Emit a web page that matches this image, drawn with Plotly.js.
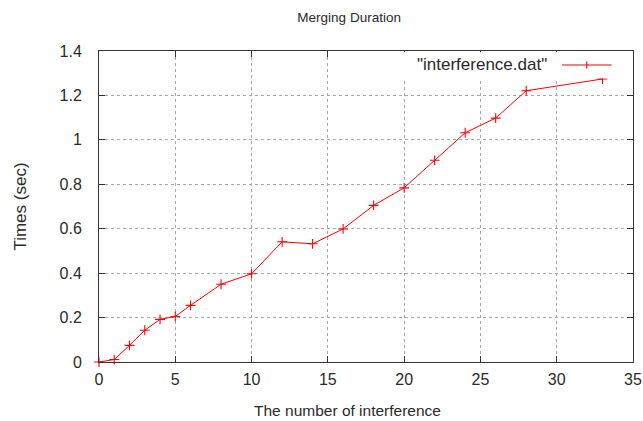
<!DOCTYPE html>
<html>
<head>
<meta charset="utf-8">
<script src="https://cdn.plot.ly/plotly-3.0.1.min.js"></script>
<style>html,body{margin:0;padding:0;background:#fff;}#chart{width:643px;height:421px;}</style>
</head>
<body>
<div id="chart"></div>
<script>
// Data
const interferenceCount = [0, 1, 2, 3, 4, 5, 6, 8, 10, 12, 14, 16, 18, 20, 22, 24, 26, 28, 33];
const mergeSeconds = [0, 0.011, 0.075, 0.143, 0.192, 0.205, 0.255, 0.35, 0.397, 0.541, 0.532, 0.599, 0.705, 0.784, 0.908, 1.032, 1.098, 1.221, 1.274];
const seriesName = '"interference.dat"';
const chartTitle = 'Merging Duration';
const xTitle = 'The number of interference';
const yTitle = 'Times (sec)';

const FONT = 'Liberation Sans, Arial, sans-serif';
const TXT = '#2a2a2a';
const RED = '#ff0000';

const trace = {
  x: interferenceCount,
  y: mergeSeconds,
  type: 'scatter',
  mode: 'lines+markers',
  name: seriesName,
  line: {color: RED, width: 1},
  marker: {symbol: 'cross-thin', size: 7, line: {color: RED, width: 1.1}, color: RED},
  cliponaxis: false,
  showlegend: false
};

const axisCommon = {
  showline: true, linecolor: '#333', linewidth: 1, mirror: 'ticks',
  ticks: 'inside', ticklen: 6, tickcolor: '#333', tickwidth: 1,
  showgrid: true, gridcolor: '#a8a8a8', griddash: 'dot', gridwidth: 1,
  zeroline: false,
  tickfont: {family: FONT, size: 16, color: TXT}
};

const layout = {
  width: 643, height: 421,
  margin: {l: 99, r: 10, t: 51, b: 59},
  paper_bgcolor: '#fff', plot_bgcolor: '#fff',
  font: {family: FONT, color: TXT},
  title: {text: chartTitle, font: {family: FONT, size: 13.5, color: TXT},
          xref: 'container', x: 0.543, xanchor: 'center',
          yref: 'container', y: 0.958, yanchor: 'middle'},
  xaxis: Object.assign({}, axisCommon, {
    range: [0, 35], dtick: 5, tick0: 0,
    ticklabelstandoff: 3
  }),
  yaxis: Object.assign({}, axisCommon, {
    range: [0, 1.4], dtick: 0.2, tick0: 0,
    title: {text: yTitle, font: {family: FONT, size: 17, color: TXT}, standoff: 28},
    ticklabelstandoff: 13
  }),
  annotations: [
    {xref: 'paper', yref: 'paper', x: 0.842, y: 0.955, xanchor: 'right', yanchor: 'middle',
     text: seriesName, showarrow: false, bgcolor: '#fff',
     font: {family: FONT, size: 17, color: TXT}},
    {xref: 'paper', yref: 'paper', x: 0.466, y: -0.155, xanchor: 'center', yanchor: 'middle',
     text: xTitle, showarrow: false,
     font: {family: FONT, size: 15.5, color: TXT}}
  ],
  shapes: [
    {type: 'rect', xref: 'paper', yref: 'paper', x0: 0.565, x1: 0.995, y0: 0.912, y1: 0.996,
     fillcolor: '#fff', line: {width: 0}, layer: 'above'},
    {type: 'line', xref: 'paper', yref: 'paper', x0: 0.867, x1: 0.96, y0: 0.955, y1: 0.955,
     line: {color: RED, width: 1}, layer: 'above'},
    {type: 'line', xref: 'paper', yref: 'paper', x0: 0.9135, x1: 0.9135, y0: 0.944, y1: 0.966,
     line: {color: RED, width: 1.1}, layer: 'above'}
  ]
};

Plotly.newPlot('chart', [trace], layout, {staticPlot: true, displayModeBar: false});
</script>
</body>
</html>
